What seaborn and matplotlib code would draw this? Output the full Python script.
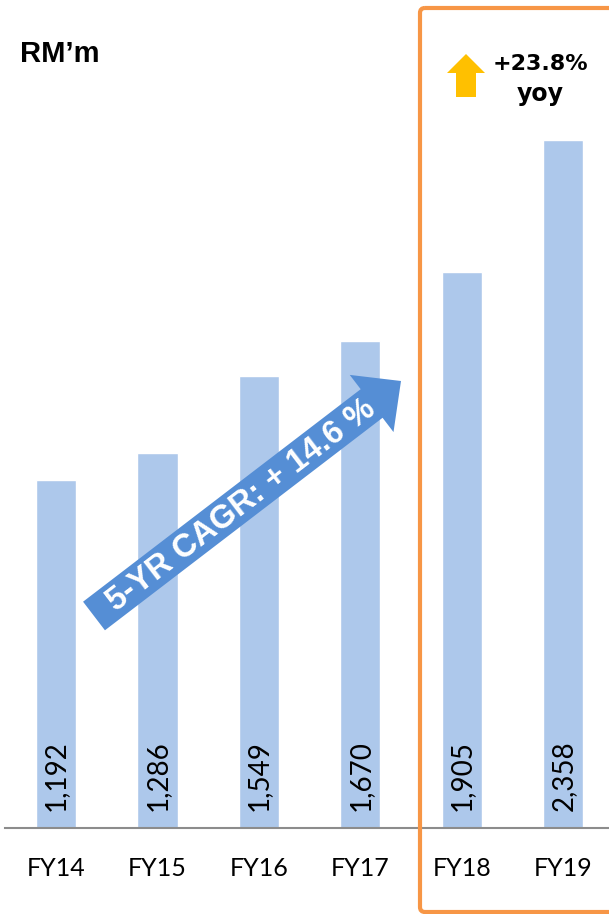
import matplotlib
matplotlib.use('Agg')
import matplotlib.pyplot as plt
import seaborn as sns
import pandas as pd
from matplotlib.patches import FancyArrow, FancyBboxPatch

# ---- data ----
years = ['FY14', 'FY15', 'FY16', 'FY17', 'FY18', 'FY19']
revenue = [1192, 1286, 1549, 1670, 1905, 2358]
unit_label = 'RM’m'
cagr_label = '5-YR CAGR: + 14.6 %'
yoy_label = '+23.8%\nyoy'

BAR = '#ADC8EB'
ARROW = '#558ED5'
ORANGE = '#F79646'
YELLOW = '#FFC000'

sns.set_style('white')
plt.rcParams['font.family'] = ['Liberation Sans', 'DejaVu Sans']
plt.rcParams['text.color'] = 'black'
plt.rcParams['xtick.color'] = 'black'

fig = plt.figure(figsize=(6.09, 9.14), dpi=100)
ax = fig.add_axes([5 / 609, 86 / 914, 604 / 609, 828 / 914])

df = pd.DataFrame({'year': years, 'revenue': revenue})
sns.barplot(data=df, x='year', y='revenue', color=BAR, saturation=1,
            width=0.395, ax=ax)
ax.set_xlim(-0.503, 5.45)
ax.set_ylim(0, 2838)

for s in ['top', 'right', 'left']:
    ax.spines[s].set_visible(False)
ax.spines['bottom'].set_color('#8C8C8C')
ax.spines['bottom'].set_linewidth(1.5)
ax.set_yticks([])
ax.set_xlabel('')
ax.set_ylabel('')
ax.tick_params(axis='x', length=0, pad=21, labelsize=18, labelcolor='black')
for t in ax.get_xticklabels():
    t.set_fontfamily('Lato')

# value labels, rotated, near the bottom of each bar
for i, v in enumerate(revenue):
    ax.annotate(f'{v:,}', xy=(i, 0), xytext=(0, 12), textcoords='offset points',
                rotation=90, ha='center', va='bottom', fontsize=20,
                family='Lato', color='black')

# ---- overlay in pixel coords for annotations ----
ov = fig.add_axes([0, 0, 1, 1])
ov.set_xlim(0, 609)
ov.set_ylim(914, 0)
ov.axis('off')
ov.patch.set_alpha(0)

ov.add_patch(FancyBboxPatch((420, 8), 300, 904,
                            boxstyle='round,pad=0,rounding_size=5',
                            fc='none', ec=ORANGE, lw=3))

ov.add_patch(FancyArrow(94, 616, 307, -235, width=36, head_width=72,
                        head_length=37, length_includes_head=True,
                        color=ARROW, lw=0))
ov.text(241, 505, cagr_label, rotation=37.4, rotation_mode='anchor',
        ha='center', va='center', color='white', fontsize=23.5,
        fontweight='bold')

ov.add_patch(FancyArrow(466, 97, 0, -43, width=20, head_width=38,
                        head_length=19, length_includes_head=True,
                        color=YELLOW, lw=0))
yoy_lines = yoy_label.split('\n')
ov.text(540, 70, yoy_lines[0], ha='center', va='baseline', fontsize=16,
        fontweight='bold', family='DejaVu Sans', color='black')
ov.text(540, 101, yoy_lines[1], ha='center', va='baseline', fontsize=17,
        fontweight='bold', family='DejaVu Sans', color='black')

ov.text(20, 62, unit_label, ha='left', va='baseline', fontsize=21,
        fontweight='bold', color='black')

fig.savefig('out.png', dpi=100)
